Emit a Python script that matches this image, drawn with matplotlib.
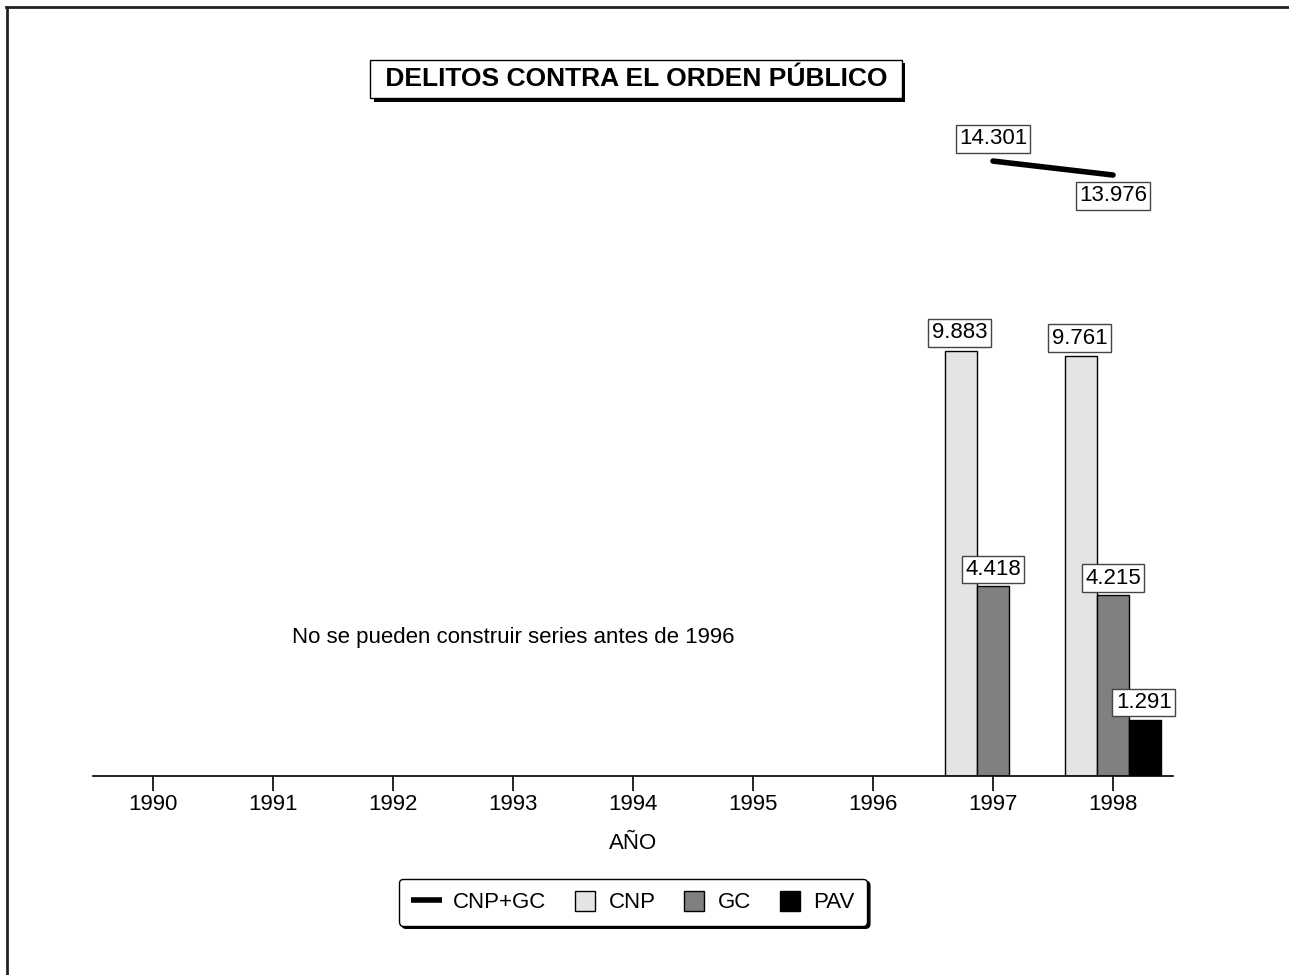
import numpy as np
import matplotlib
matplotlib.use('Agg')
import matplotlib.pyplot as plt
from matplotlib.lines import Line2D
from matplotlib.patches import Patch, Rectangle
from matplotlib.legend_handler import HandlerPatch
import matplotlib.patheffects as pe

plt.rcParams['font.family'] = ['Liberation Sans', 'DejaVu Sans']

# data
years = [1990, 1991, 1992, 1993, 1994, 1995, 1996, 1997, 1998]
bar_years = [1997, 1998]
cnp = [9883, 9761]
gc = [4418, 4215]
pav = [np.nan, 1291]
total = [14301, 13976]

def fmt(v):
    return f"{v:,.0f}".replace(",", ".")

FS = 16

fig = plt.figure(figsize=(12.89, 9.75), dpi=100)
W, H = 1289, 975

# axes placed so baseline sits at y=776px, x from 93 to 1173px
ax = fig.add_axes([93 / W, (H - 776) / H, (1173 - 93) / W, (776 - 40) / H])
ax.set_xlim(1989.5, 1998.5)
ax.set_ylim(0, (776 - 40) / 0.043)

bw = 0.267
bx = np.array(bar_years, dtype=float)
ax.bar(bx - bw, cnp, bw, color='#e4e4e4', edgecolor='black', linewidth=1)
ax.bar(bx, gc, bw, color='#808080', edgecolor='black', linewidth=1)
ax.bar(bx + bw, pav, bw, color='black', edgecolor='black', linewidth=1)
ax.plot(bar_years, total, color='black', lw=4, solid_capstyle='round')

box = dict(boxstyle='square,pad=0.15', fc='white', ec='#444444', lw=1)
ax.annotate(fmt(total[0]), (bar_years[0], total[0]), xytext=(0, 16),
            textcoords='offset points', ha='center', va='center', fontsize=FS, bbox=box)
ax.annotate(fmt(total[1]), (bar_years[1], total[1]), xytext=(0, -15),
            textcoords='offset points', ha='center', va='center', fontsize=FS, bbox=box)
for i, y in enumerate(bar_years):
    ax.annotate(fmt(cnp[i]), (y - bw, cnp[i]), xytext=(-1, 13), textcoords='offset points',
                ha='center', va='center', fontsize=FS, bbox=box)
    ax.annotate(fmt(gc[i]), (y, gc[i]), xytext=(0, 12), textcoords='offset points',
                ha='center', va='center', fontsize=FS, bbox=box)
    if not np.isnan(pav[i]):
        ax.annotate(fmt(pav[i]), (y + bw, pav[i]), xytext=(-1, 13), textcoords='offset points',
                    ha='center', va='center', fontsize=FS, bbox=box)

ax.text(1993.0, 3220, 'No se pueden construir series antes de 1996',
        ha='center', va='center', fontsize=FS)

for s in ['top', 'right', 'left']:
    ax.spines[s].set_visible(False)
ax.spines['bottom'].set_linewidth(1.2)
ax.set_yticks([])
ax.set_xticks(years)
ax.set_xticklabels([str(y) for y in years], fontsize=FS)
ax.tick_params(axis='x', length=11, width=1.2, pad=2)
ax.set_xlabel('AÑO', fontsize=FS, labelpad=13)

# title with shadowed box
t = fig.text(636 / W, 1 - 79 / H, ' DELITOS CONTRA EL ORDEN PÚBLICO ', ha='center', va='center',
             fontsize=19, fontweight='bold',
             bbox=dict(boxstyle='square,pad=0.28', fc='white', ec='black', lw=1))
t.get_bbox_patch().set_path_effects([
    pe.SimplePatchShadow(offset=(2.5, -2.5), shadow_rgbFace='black', alpha=1), pe.Normal()])


def square_patch(legend, orig_handle, xdescent, ydescent, width, height, fontsize):
    s = 0.9 * fontsize
    return Rectangle((-xdescent + width - s - 2, -ydescent + (height - s) / 2), s, s)


handles = [Line2D([0], [0], color='black', lw=4, solid_capstyle='butt'),
           Patch(fc='#e4e4e4', ec='black'),
           Patch(fc='#808080', ec='black'),
           Patch(fc='black', ec='black')]
leg = fig.legend(handles, ['CNP+GC', 'CNP', 'GC', 'PAV'], loc='center',
                 bbox_to_anchor=(633 / W, 1 - 902 / H), ncol=4, fontsize=FS,
                 frameon=True, fancybox=True, shadow={'color': 'black', 'alpha': 1},
                 handlelength=1.4, handleheight=1.0, handletextpad=0.5, columnspacing=0.9,
                 borderpad=0.55, edgecolor='black',
                 handler_map={Patch: HandlerPatch(patch_func=square_patch)})
leg.get_frame().set_linewidth(1)
leg.get_frame().set_alpha(1)

# page frame (top and left edges)
fig.add_artist(Line2D([6 / W, 1], [1 - 7 / H, 1 - 7 / H], transform=fig.transFigure,
                      color='#222222', lw=2))
fig.add_artist(Line2D([7 / W, 7 / W], [0, 1 - 7 / H], transform=fig.transFigure,
                      color='#222222', lw=2))

fig.savefig('out.png', dpi=100)
